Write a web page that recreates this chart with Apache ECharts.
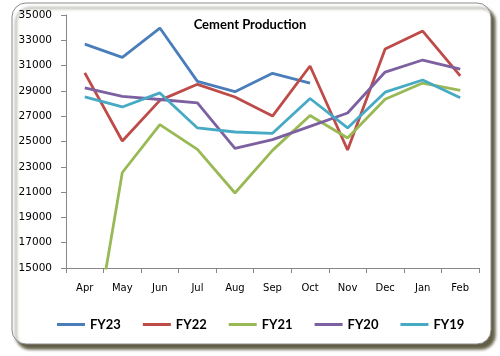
<!DOCTYPE html>
<html>
<head>
<meta charset="utf-8">
<script src="https://cdn.jsdelivr.net/npm/echarts@6/dist/echarts.min.js"></script>
<style>
html,body{margin:0;padding:0;background:#fff;}
#c{width:500px;height:356px;}
</style>
</head>
<body>
<div id="c"></div>
<script>
var months = ['Apr','May','Jun','Jul','Aug','Sep','Oct','Nov','Dec','Jan','Feb'];
var fy23 = [32700, 31650, 33970, 29750, 28940, 30390, 29620];
var fy22 = [30420, 25040, 28250, 29520, 28520, 27010, 30970, 24330, 32310, 33730, 30180];
var fy21 = [5000, 22550, 26340, 24380, 20930, 24300, 27050, 25280, 28340, 29620, 29050];
var fy20 = [29230, 28560, 28320, 28050, 24450, 25150, 26200, 27250, 30490, 31440, 30730];
var fy19 = [28520, 27730, 28840, 26070, 25750, 25650, 28400, 26070, 28900, 29860, 28450];
var yTicksMin = 15000, yTicksMax = 35000, yStep = 2000;

var names = ['FY23','FY22','FY21','FY20','FY19'];
var data = [fy23, fy22, fy21, fy20, fy19];
var colors = ['#4A7EBB','#BE4B48','#98B954','#7D60A0','#46AAC5'];

var chart = echarts.init(document.getElementById('c'), null, {renderer:'canvas'});
chart.setOption({
  animation: false,
  backgroundColor: '#fff',
  graphic: [{
    type: 'rect', z: -10, silent: true,
    shape: {x: 12, y: 3, width: 479, height: 341, r: 14},
    style: {fill: '#fff', stroke: '#8a8a8a', lineWidth: 1,
      shadowBlur: 3, shadowOffsetX: 4, shadowOffsetY: 5, shadowColor: 'rgba(80,75,50,0.9)'}
  }],
  title: {
    text: 'Cement Production', left: 'center', top: 13,
    textStyle: {fontFamily: 'Lato', fontWeight: 'bold', fontSize: 13, color: '#000'}
  },
  legend: {
    data: names, top: 318, left: 57, padding: 0, itemGap: 22, itemWidth: 28, itemHeight: 3,
    icon: 'rect',
    textStyle: {fontFamily: 'Lato', fontWeight: 'bold', fontSize: 13, color: '#000'}
  },
  grid: {left: 66, right: 21, top: 15, bottom: 88},
  xAxis: {
    type: 'category', data: months, boundaryGap: true,
    axisLine: {lineStyle: {color: '#888', width: 1}},
    axisTick: {show: true, length: 5, lineStyle: {color: '#888'}},
    axisLabel: {margin: 15, fontFamily: 'DejaVu Sans', fontSize: 10, color: '#000'}
  },
  yAxis: {
    type: 'value', min: yTicksMin, max: yTicksMax, interval: yStep,
    axisLine: {show: true, lineStyle: {color: '#888', width: 1}},
    axisTick: {show: true, length: 5, inside: false, lineStyle: {color: '#888'}},
    splitLine: {show: false},
    axisLabel: {margin: 14, fontFamily: 'DejaVu Sans', fontSize: 10.5, color: '#000',
      formatter: function(v){ return String(v); }}
  },
  series: names.map(function(n, i){
    return {
      name: n, type: 'line', data: data[i], symbol: 'none', showSymbol: false,
      clip: true, color: colors[i],
      lineStyle: {width: 2.8, color: colors[i]}
    };
  })
});
</script>
</body>
</html>
